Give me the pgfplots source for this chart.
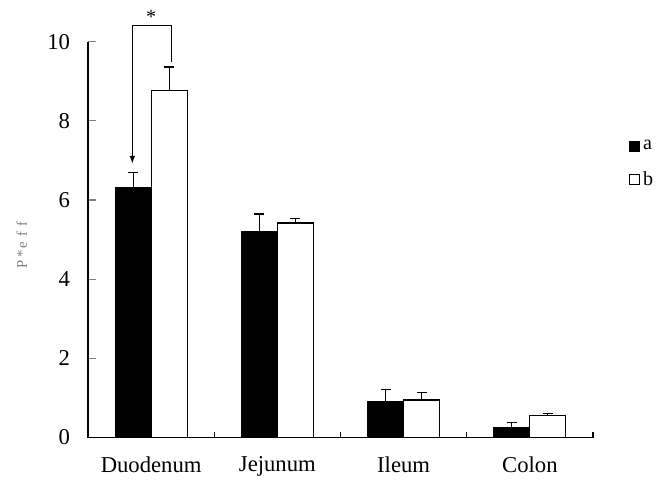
\documentclass[border=0pt]{standalone}
\usepackage{pgfplots}
\pgfplotsset{compat=1.18}
\usepackage{fontspec}
\setmainfont{Liberation Serif}
\begin{document}
\begin{tikzpicture}
\begin{axis}[
  at={(0,0)}, anchor=south west,
  scale only axis,
  width=378.75pt, height=296.85pt,
  xmin=0.5, xmax=4.5, ymin=0, ymax=10,
  axis x line*=bottom, axis y line*=left,
  axis line style={line width=0.9pt},
  ybar=0pt, bar width=0.285,
  xtick={1,2,3,4},
  xticklabels={Duodenum,Jejunum,Ileum,Colon},
  minor xtick={0.5,1.5,2.5,3.5,4.5},
  ytick={0,2,4,6,8,10},
  x tick style={draw=none},
  minor x tick style={draw=black, line width=0.9pt},
  minor tick length=4pt,
  y tick style={line width=0.9pt}, major tick length=6pt,
  tick align=inside,
  /pgf/number format/assume math mode=true,
  xticklabel style={font=\fontsize{17}{19}\selectfont, yshift=-11pt},
  yticklabel style={font=\fontsize{17}{19}\selectfont, xshift=-10pt},
  ylabel={P\,*\,e\,\,f\,\,f},
  ylabel style={font=\fontsize{11}{13}\selectfont, color=gray, at={(axis description cs:-0.131,0.486)}, anchor=center},
  clip=false,
  legend style={draw=none, fill=none, at={(axis description cs:1.072,0.757)}, anchor=north west,
    font=\fontsize{15}{17}\selectfont, row sep=11pt, inner sep=0pt, outer sep=0pt},
  legend cell align=left,
  legend image code/.code={\draw[#1, line width=0.8pt] (0pt,-3.75pt) rectangle (7.5pt,3.75pt);},
  error bars/y dir=plus, error bars/y explicit,
  error bars/error mark options={rotate=90, mark size=3.75pt, line width=0.9pt},
  error bars/error bar style={line width=0.9pt},
]
\addplot[draw=black, fill=black, line width=0.9pt] coordinates {
  (1,6.31) +- (0,0.39)
  (2,5.20) +- (0,0.45)
  (3,0.92) +- (0,0.30)
  (4,0.25) +- (0,0.13)
};
\addlegendentry{a}
\addplot[draw=black, fill=white, line width=0.9pt] coordinates {
  (1,8.76) +- (0,0.60)
  (2,5.42) +- (0,0.12)
  (3,0.95) +- (0,0.19)
  (4,0.56) +- (0,0.04)
};
\addlegendentry{b}
\draw[line width=0.9pt, -latex] (axis cs:1.163,9.49) -- (axis cs:1.163,10.4) -- (axis cs:0.851,10.4) -- (axis cs:0.851,6.93);
\node[font=\fontsize{15}{17}\selectfont] at (axis cs:1.0,10.62) {*};
\end{axis}
\useasboundingbox (-66pt,-34.875pt) rectangle (428.25pt,328.15pt);
\end{tikzpicture}
\end{document}
